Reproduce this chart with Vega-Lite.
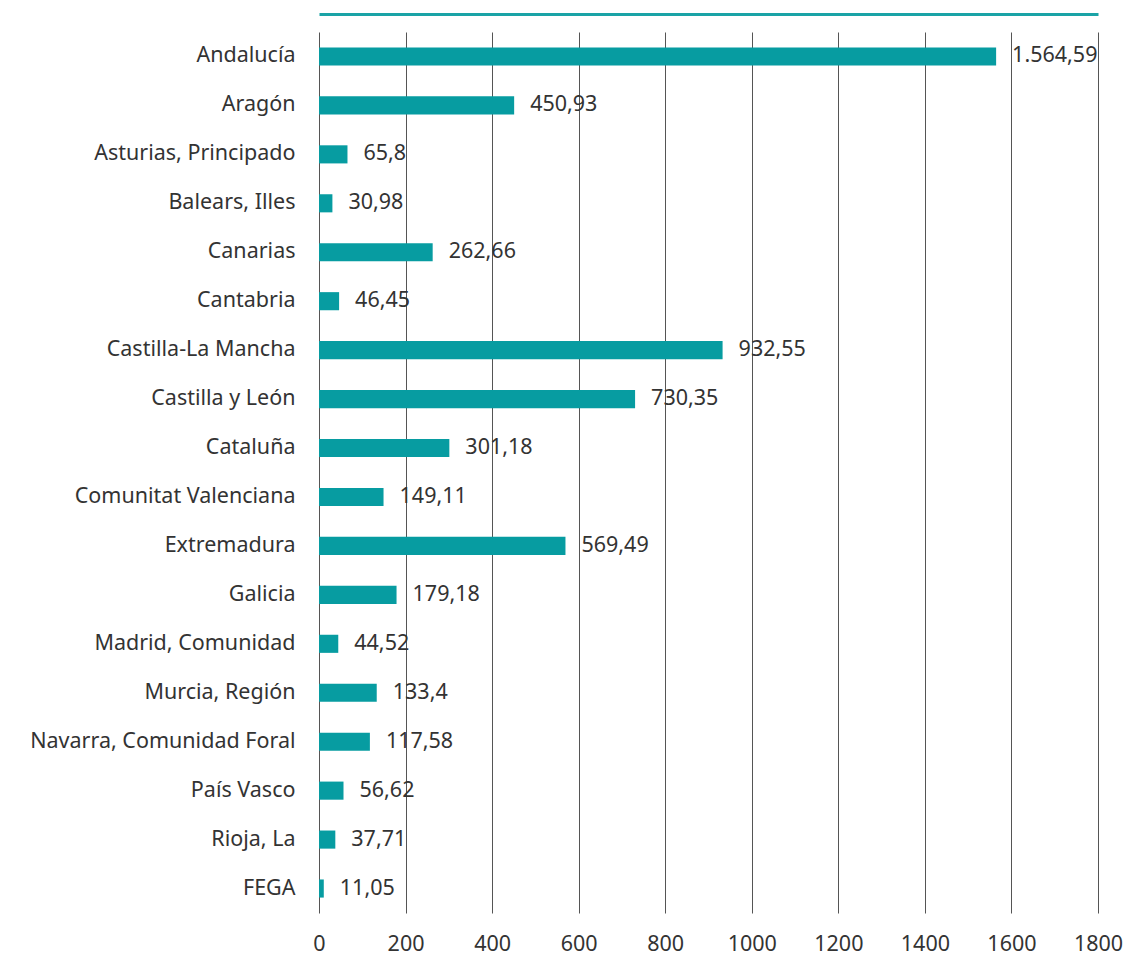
{
  "$schema": "https://vega.github.io/schema/vega-lite/v6.json",
  "width": 779,
  "height": 881,
  "autosize": {"type": "none"},
  "padding": {"left": 319, "top": 32, "right": 34, "bottom": 55},
  "background": "white",
  "config": {
    "locale": {"number": {"decimal": ",", "thousands": ".", "grouping": [3], "currency": ["", " €"]}},
    "font": "Noto Sans",
    "view": {"stroke": null}
  },
  "data": {
    "values": [
      {"region": "Andalucía", "value": 1564.59},
      {"region": "Aragón", "value": 450.93},
      {"region": "Asturias, Principado", "value": 65.8},
      {"region": "Balears, Illes", "value": 30.98},
      {"region": "Canarias", "value": 262.66},
      {"region": "Cantabria", "value": 46.45},
      {"region": "Castilla-La Mancha", "value": 932.55},
      {"region": "Castilla y León", "value": 730.35},
      {"region": "Cataluña", "value": 301.18},
      {"region": "Comunitat Valenciana", "value": 149.11},
      {"region": "Extremadura", "value": 569.49},
      {"region": "Galicia", "value": 179.18},
      {"region": "Madrid, Comunidad", "value": 44.52},
      {"region": "Murcia, Región", "value": 133.4},
      {"region": "Navarra, Comunidad Foral", "value": 117.58},
      {"region": "País Vasco", "value": 56.62},
      {"region": "Rioja, La", "value": 37.71},
      {"region": "FEGA", "value": 11.05}
    ]
  },
  "layer": [
    {
      "encoding": {
        "y": {
          "field": "region",
          "type": "nominal",
          "sort": null,
          "scale": {"paddingInner": 0.63, "paddingOuter": 0.315},
          "axis": {
            "title": null,
            "domain": false,
            "ticks": false,
            "labelPadding": 24,
            "labelLimit": 400,
            "labelFontSize": 21.5,
            "labelColor": "#333333",
            "labelFont": "Noto Sans"
          }
        },
        "x": {
          "field": "value",
          "type": "quantitative",
          "scale": {"domain": [0, 1800], "nice": false},
          "axis": {
            "title": null,
            "values": [0, 200, 400, 600, 800, 1000, 1200, 1400, 1600, 1800],
            "format": "d",
            "domain": false,
            "ticks": false,
            "grid": true,
            "gridColor": "#555555",
            "gridWidth": 1,
            "labelFlush": false,
            "labelPadding": 20,
            "labelFontSize": 21.5,
            "labelColor": "#333333",
            "labelFont": "Noto Sans"
          }
        }
      },
      "layer": [
        {
          "mark": {"type": "bar", "color": "#079ca1"},
          "encoding": {"x2": {"datum": 0}}
        },
        {
          "mark": {"type": "text", "align": "left", "baseline": "middle", "dx": 16, "fontSize": 21.5, "color": "#333333", "font": "Noto Sans"},
          "encoding": {
            "text": {"field": "value", "type": "quantitative", "format": ",.2~f"}
          }
        }
      ]
    },
    {
      "mark": {"type": "rule", "opacity": 0},
      "encoding": {
        "x": {"datum": 0, "type": "quantitative", "scale": {"domain": [0, 1]}, "axis": {"orient": "top", "offset": 18, "domain": true, "domainColor": "#1aa3a6", "domainWidth": 3, "labels": false, "ticks": false, "grid": false, "title": null}}
      }
    }
  ],
  "resolve": {"scale": {"x": "independent"}, "axis": {"x": "independent"}}
}
